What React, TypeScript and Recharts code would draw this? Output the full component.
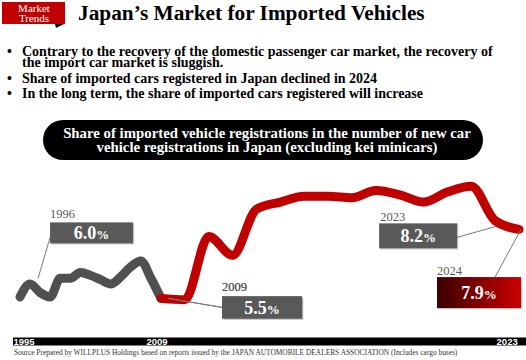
import React from 'react';
import { LineChart, Line, XAxis, YAxis } from 'recharts';

// ---- data ----
const grayYears = [1995, 1996, 1997, 1998, 1999, 2000, 2001, 2002, 2003, 2004, 2005, 2006, 2007, 2008, 2009];
const grayShare = [5.55, 6.0, 5.7, 5.55, 6.2, 6.2, 6.4, 6.3, 6.15, 6.0, 6.25, 6.6, 6.8, 6.2, 5.5];
const redYears = [2009, 2010, 2011, 2012, 2013, 2014, 2015, 2016, 2017, 2018, 2019, 2020, 2021, 2022, 2023, 2024];
const redShare = [5.5, 5.45, 7.65, 7.0, 8.6, 8.85, 9.05, 9.05, 9.0, 9.25, 9.1, 8.85, 9.2, 9.4, 8.2, 7.9];
const grayAxisTicks = [1995, 2009];
const redAxisTicks = [2023];
const annotatedYears = [1996, 2009, 2023, 2024];

const headerBadge = ['Market', 'Trends'];
const pageTitle = 'Japan\u2019s Market for Imported Vehicles';
const bulletLines = [
  { bullet: true, text: 'Contrary to the recovery of the domestic passenger car market, the recovery of' },
  { bullet: false, text: 'the import car market is sluggish.' },
  { bullet: true, text: 'Share of imported cars registered in Japan declined in 2024' },
  { bullet: true, text: 'In the long term, the share of imported cars registered will increase' },
];
const chartTitleLines = [
  'Share of imported vehicle registrations in the number of new car',
  'vehicle registrations in Japan (excluding kei minicars)',
];
const sourceNote =
  'Source Prepared by WILLPLUS Holdings based on reports issued by the JAPAN AUTOMOBILE DEALERS ASSOCIATION (Includes cargo buses)';

const grayData = grayYears.map((year, i) => ({ year, share: grayShare[i] }));
const redData = redYears.map((year, i) => ({ year, share: redShare[i] }));

// ---- styling / layout ----
const SERIF = "'Liberation Serif', 'Times New Roman', serif";
const SANS = "'Liberation Sans', Arial, sans-serif";
const RED = '#c00000';
const GRAY_LINE = '#505050';
const BOX_GRAY = '#595959';

const bulletBaselines = [55.5, 66.5, 82.8, 97.8];
const tickShift: Record<number, number> = { 1995: 4, 2009: -4, 2023: 12 };

// annotation layout relative to the data point
const annotationLayout: Record<
  number,
  { box: [number, number, number, number]; year: [number, number]; from: [number, number]; to: [number, number]; fill: string }
> = {
  1996: { box: [20, -61.6, 83, 21], year: [20, -65.6], from: [20, -46.6], to: [8, -5.6], fill: BOX_GRAY },
  2009: { box: [61, -2, 80, 22], year: [61, -7], from: [61, 9], to: [7, 0], fill: BOX_GRAY },
  2023: { box: [-116, 2.6, 78, 25], year: [-115, 0.6], from: [-38, 16.6], to: [1, 5.6], fill: BOX_GRAY },
  2024: { box: [-82, 47.7, 84, 31], year: [-82, 45.7], from: [-24, 47.7], to: [2, 0], fill: 'url(#grad2024)' },
};

const renderAnnotation = (props: any) => {
  const { cx, cy, payload, index } = props;
  const key = `ann-${payload?.year}-${index}`;
  if (!payload || !annotatedYears.includes(payload.year) || cx == null || cy == null) return <g key={key} />;
  const a = annotationLayout[payload.year];
  const bx = cx + a.box[0];
  const by = cy + a.box[1];
  const bw = a.box[2];
  const bh = a.box[3];
  return (
    <g key={key}>
      <defs>
        <linearGradient id="grad2024" x1="0" y1="0" x2="1" y2="0">
          <stop offset="0%" stopColor="#3a0000" />
          <stop offset="100%" stopColor="#cc0000" />
        </linearGradient>
      </defs>
      <line x1={cx + a.from[0]} y1={cy + a.from[1]} x2={cx + a.to[0]} y2={cy + a.to[1]} stroke="#7a7a7a" strokeWidth={1} />
      <rect x={bx + 1.2} y={by + 1.2} width={bw} height={bh} fill="rgba(0,0,0,0.18)" />
      <rect x={bx} y={by} width={bw} height={bh} fill={a.fill} />
      <text x={cx + a.year[0]} y={cy + a.year[1]} fill={BOX_GRAY} fontFamily={SERIF} fontSize={12.5}>
        {payload.year}
      </text>
      <text
        x={bx + bw / 2}
        y={by + bh / 2 + 6.5}
        textAnchor="middle"
        fill="#fff"
        fontFamily={SERIF}
        fontWeight={700}
        fontSize={18}
      >
        {payload.share.toFixed(1)}
        <tspan fontSize={13}>%</tspan>
      </text>
    </g>
  );
};

const makeTick = (dy: number) => (props: any) => {
  const { x, y, payload } = props;
  return (
    <text
      key={`t-${payload.value}`}
      x={x + (tickShift[payload.value] ?? 0)}
      y={y + dy}
      textAnchor="middle"
      fill="#fff"
      fontFamily={SANS}
      fontWeight={700}
      fontSize={9.5}
    >
      {payload.value}
    </text>
  );
};

export default function App() {
  return (
    <div style={{ position: 'absolute', left: 0, top: 0, width: 526, height: 360, background: '#fff', overflow: 'hidden' }}>
      <svg width={526} height={360} style={{ position: 'absolute', left: 0, top: 0 }}>
        <rect x={2} y={2} width={63} height={22} fill={RED} />
        <polygon points="55,24 64,24 56,28" fill="#000" />
        <text x={34} y={12} textAnchor="middle" fill="#fff" fontFamily={SERIF} fontSize={11}>
          {headerBadge[0]}
        </text>
        <text x={34} y={21.5} textAnchor="middle" fill="#fff" fontFamily={SERIF} fontSize={11}>
          {headerBadge[1]}
        </text>
        <text x={78} y={20} fill="#000" fontFamily={SERIF} fontWeight={700} fontSize={21.3}>
          {pageTitle}
        </text>
        {bulletLines.map((b, i) => (
          <g key={i}>
            {b.bullet && (
              <text x={7} y={bulletBaselines[i]} fill="#000" fontFamily={SERIF} fontWeight={700} fontSize={14}>
                {'\u2022'}
              </text>
            )}
            <text x={22} y={bulletBaselines[i]} fill="#000" fontFamily={SERIF} fontWeight={700} fontSize={14}>
              {b.text}
            </text>
          </g>
        ))}
        <rect x={43} y={120} width={440} height={40} rx={20} ry={20} fill="#000" />
        {chartTitleLines.map((t, i) => (
          <text
            key={i}
            x={267}
            y={137.5 + i * 14}
            textAnchor="middle"
            fill="#fff"
            fontFamily={SERIF}
            fontWeight={700}
            fontSize={14.8}
          >
            {t}
          </text>
        ))}
        <text x={14} y={355} fill="#333" fontFamily={SERIF} fontSize={7.4}>
          {sourceNote}
        </text>
      </svg>
      <div style={{ position: 'absolute', left: 0, top: 0 }}>
        <LineChart width={526} height={360} margin={{ top: 169, right: 0, bottom: 16.5, left: 13 }}>
          <XAxis
            xAxisId="g"
            dataKey="year"
            type="number"
            domain={[1995, 2009]}
            padding={{ left: 7, right: 365 }}
            ticks={grayAxisTicks}
            interval={0}
            height={1}
            tickSize={0}
            tickMargin={0}
            tickLine={false}
            axisLine={{ stroke: '#000', strokeWidth: 8 }}
            tick={makeTick(3.5)}
          />
          <XAxis
            xAxisId="r"
            dataKey="year"
            type="number"
            domain={[2009, 2024]}
            padding={{ left: 148, right: 7 }}
            ticks={redAxisTicks}
            interval={0}
            height={1}
            tickSize={0}
            tickMargin={0}
            tickLine={false}
            axisLine={false}
            tick={makeTick(2.5)}
          />
          <YAxis hide domain={[4, 10]} />
          <Line
            xAxisId="g"
            data={grayData}
            dataKey="share"
            type="monotone"
            stroke={GRAY_LINE}
            strokeWidth={9}
            strokeLinecap="round"
            strokeLinejoin="round"
            dot={renderAnnotation}
            activeDot={false}
            isAnimationActive={false}
          />
          <Line
            xAxisId="r"
            data={redData}
            dataKey="share"
            type="monotone"
            stroke={RED}
            strokeWidth={9}
            strokeLinecap="round"
            strokeLinejoin="round"
            dot={renderAnnotation}
            activeDot={false}
            isAnimationActive={false}
          />
        </LineChart>
      </div>
    </div>
  );
}
